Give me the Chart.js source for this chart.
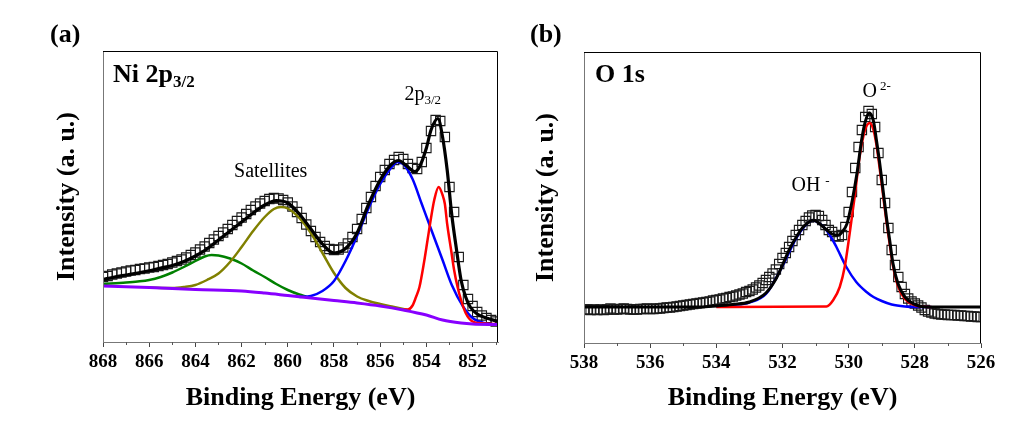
<!DOCTYPE html>
<html>
<head>
<meta charset="utf-8">
<script src="https://cdn.jsdelivr.net/npm/chart.js@4.4.1/dist/chart.umd.min.js"></script>
<style>
  body { margin: 0; background: #fff; }
  #wrap { position: relative; width: 1032px; height: 426px; }
  canvas { position: absolute; top: 0; }
  #niChart { left: 0; }
  #oChart { left: 516px; }
</style>
</head>
<body>
<div id="wrap">
  <canvas id="niChart" width="516" height="426"></canvas>
  <canvas id="oChart" width="516" height="426"></canvas>
</div>
<script>
// ---- Ni 2p3/2 (panel a) ----
const niScanStart = 868, niScanStep = 0.2;
const niCounts = [
  65, 66, 67.5, 68.5, 69.5, 70.5, 71.5, 72, 73, 73.5,
  74.5, 75, 76, 77, 78, 79.5, 81, 82.5, 84.5, 87,
  89.5, 92.5, 95.5, 99, 102.5, 106, 109.5, 113, 117, 121,
  124.5, 128, 132, 135.5, 138.5, 141, 143, 144, 143.5, 142,
  139.5, 135.5, 130, 124, 117.5, 111, 105, 100, 96, 93,
  92, 92.5, 94.5, 98.5, 105, 113, 123, 134, 145, 156,
  165, 172, 178, 182, 185, 183, 178, 174, 173, 180,
  194, 211, 222, 221, 205, 155, 130, 85, 57, 43,
  36, 30, 26.5, 24, 22, 20.5
];
const niFitE = [868, 867.5, 867, 866.5, 866, 865.5, 865, 864.5, 864, 863.5, 863, 862.5, 862, 861.5, 861, 860.5, 860, 859.5, 859, 858.5, 858, 857.5, 857, 856.5, 856, 855.5, 855.2, 854.9, 854.5, 854.3, 854.0, 853.8, 853.5, 853.3, 853.1, 852.9, 852.7, 852.5, 852.3, 852.1, 851.8, 851.4, 850.9];
const niFitI = [62.5, 65, 67, 69, 71.3, 74, 76.5, 80.5, 86, 93, 102, 111, 120, 129, 137, 141.5, 139, 128, 113, 98, 89, 93.5, 109, 138, 162, 178, 181.5, 177, 170.5, 175, 194, 212, 223.5, 205, 172, 127, 93, 62, 45, 35, 28, 24, 20.5];
const niBgE = [868, 866, 864, 862, 861, 860, 859, 858, 857, 856, 855, 854, 853.3, 852.5, 852, 850.9];
const niBgI = [56, 54.5, 52.5, 51, 49, 46.5, 44, 41.5, 39, 36, 32, 27, 22, 19, 18, 17.5];
const niGreenE = [868, 867, 866.5, 866, 865.5, 865, 864.5, 864, 863.6, 863.3, 863, 862.5, 862, 861.5, 861, 860.5, 860, 859.5, 859.2];
const niGreenI = [58, 59.5, 60.5, 62, 65, 69.5, 75, 81, 85.5, 87, 86.5, 83.5, 78.5, 71.5, 65, 58, 52, 47.5, 45.5];
const niOliveE = [866, 865, 864.5, 864, 863.5, 863, 862.5, 862, 861.5, 861, 860.6, 860.3, 860, 859.5, 859, 858.5, 858, 857.5, 857, 856.5, 856, 855.5, 855, 854.8];
const niOliveI = [54.5, 54, 55, 57, 62, 68.5, 80, 95, 111, 125, 133, 135, 133.5, 124, 109, 89, 69, 54, 45.5, 41, 38, 35.5, 33, 32];
const niBlueE = [859.5, 859, 858.5, 858, 857.5, 857, 856.5, 856, 855.5, 855.25, 855, 854.6, 854.2, 853.8, 853.3, 852.9, 852.4, 852, 851.5, 850.9];
const niBlueI = [45, 46, 51, 61, 81, 106, 134, 158, 175, 180, 178, 163, 138, 113, 82, 57, 35, 24, 19, 17.5];
const niRedE = [855, 854.8, 854.6, 854.45, 854.3, 854.1, 853.95, 853.8, 853.66, 853.47, 853.3, 853.2, 853.1, 852.93, 852.8, 852.65, 852.5, 852.3, 852, 851.5, 850.9];
const niRedI = [32.5, 32.5, 36.5, 45, 55, 80, 102, 124, 142, 155, 147, 138, 118, 92, 72, 55, 42, 29, 20.5, 18.5, 18];
const niTicks = [868, 866, 864, 862, 860, 858, 856, 854, 852];
const niMinor = [867, 865, 863, 861, 859, 857, 855, 853, 851];

// ---- O 1s (panel b) ----
const oScanStart = 538, oScanStep = 0.1;
const oCounts = [
  33.5, 33.5, 33, 33.5, 33, 33.5, 33, 33.5, 34.5, 33.5,
  33.5, 34, 34.5, 34, 33.5, 33.5, 33.5, 34, 34, 34.5,
  34, 34, 34.5, 34.5, 35, 35.5, 35.5, 36, 36.5, 37, 37.5,
  38, 38.5, 39, 39.5, 40, 40.5, 41, 41.5, 42.5, 43,
  43.5, 44.5, 45, 46, 46.5, 47.5, 48.5, 49.5, 51, 52,
  53.5, 55.5, 57.5, 60, 63, 66, 69.5, 73.5, 79, 85,
  90, 96, 102, 108, 113, 118, 122, 125.5, 127.5, 128,
  127, 123, 118, 113, 111, 107, 106.5, 108, 116, 131,
  151, 175, 196, 213, 226, 232, 229, 216, 190, 163,
  140, 115, 93, 78, 66, 56, 49, 44.5, 41.5, 39.5,
  37.5, 35.5, 33, 31.5, 30.5, 29.5, 29, 28.5, 28.5, 28,
  28, 28, 27.5, 27.5, 27, 27, 26.5, 26.5, 26, 26
];
const oFitE = [538, 534.5, 534, 533.5, 533, 532.5, 532.2, 532, 531.8, 531.6, 531.4, 531.2, 531.08, 530.9, 530.7, 530.5, 530.32, 530.2, 530.05, 529.89, 529.75, 529.61, 529.5, 529.38, 529.25, 529.16, 529.06, 528.96, 528.86, 528.76, 528.66, 528.51, 528.3, 528.05, 527.65, 526];
const oFitI = [36, 36, 37, 38.5, 41, 50, 64, 78, 93, 105, 115, 121, 122.7, 120, 114, 109, 107.7, 111, 119.4, 142.7, 169.4, 202.7, 221, 230, 222, 202.7, 179.4, 152.7, 126, 102.7, 79.4, 59.4, 46, 39.4, 36, 36];
const oBlueE = [534, 533.5, 533, 532.5, 532, 531.6, 531.3, 531.08, 530.9, 530.7, 530.5, 530.37, 530.07, 529.77, 529.46, 529.25, 529, 528.7, 528.3, 528, 527.5];
const oBlueI = [36.5, 38, 40.5, 49, 77, 104, 118, 122.5, 120, 114, 104, 96, 76, 61, 51, 46, 42, 38.5, 36.5, 36, 36];
const oRedE = [534, 530.67, 530.47, 530.27, 530.12, 529.97, 529.82, 529.67, 529.51, 529.36, 529.25, 529.16, 529.06, 528.96, 528.86, 528.76, 528.66, 528.51, 528.3, 528.05, 527.8, 527.5];
const oRedI = [36, 36.5, 42.7, 56, 76, 109.4, 146, 186, 212.7, 220, 213, 198, 174, 148, 122, 99, 77, 57, 44, 38.5, 36.5, 36];
const oTicks = [538, 536, 534, 532, 530, 528, 526];
const oMinor = [537, 535, 533, 531, 529, 527];

const serif = '"Liberation Serif", "Times New Roman", serif';

function pairs(xs, ys) {
  return xs.map((x, i) => ({x: x, y: ys[i]}));
}
function scan(start, step, counts) {
  return counts.map((v, i) => ({x: +(start - i * step).toFixed(2), y: v}));
}
function fitLine(data, color, width) {
  return {data: data, showLine: true, borderColor: color, borderWidth: width,
    pointRadius: 0, cubicInterpolationMode: 'monotone', fill: false};
}
function squares(data) {
  return {data: data, showLine: false, pointStyle: 'rect', pointRadius: 6.6,
    pointBorderColor: '#1a1a1a', pointBackgroundColor: 'rgba(0,0,0,0)', pointBorderWidth: 1.1};
}

// frame, minor ticks and text notes
const decor = {
  id: 'decor',
  afterDatasetsDraw(chart, args, opts) {
    const {ctx, chartArea: a, scales: {x, y}} = chart;
    ctx.save();
    ctx.lineWidth = 1;
    ctx.strokeStyle = '#555';
    opts.minor.forEach(v => {
      const px = Math.round(x.getPixelForValue(v)) + 0.5;
      ctx.beginPath(); ctx.moveTo(px, a.bottom); ctx.lineTo(px, a.bottom + 3); ctx.stroke();
    });
    ctx.strokeStyle = '#777';
    ctx.beginPath(); ctx.moveTo(a.left + 0.5, a.top); ctx.lineTo(a.left + 0.5, a.bottom); ctx.stroke();
    ctx.strokeStyle = '#000';
    ctx.beginPath();
    ctx.moveTo(a.left, a.top + 0.5); ctx.lineTo(a.right - 0.5, a.top + 0.5); ctx.lineTo(a.right - 0.5, a.bottom);
    ctx.stroke();

    ctx.fillStyle = '#000';
    ctx.textBaseline = 'alphabetic';
    opts.notes.forEach(n => {
      let px = n.px !== undefined ? n.px : x.getPixelForValue(n.x);
      const py = n.py !== undefined ? n.py : y.getPixelForValue(n.y);
      if (n.align === 'center') {
        let w = 0;
        n.parts.forEach(p => { ctx.font = p.font; w += ctx.measureText(p.text).width + (p.gap || 0); });
        px -= w / 2;
      }
      n.parts.forEach(p => {
        ctx.font = p.font;
        px += p.gap || 0;
        ctx.fillText(p.text, px, py + (p.dy || 0));
        px += ctx.measureText(p.text).width;
      });
    });
    ctx.restore();
  }
};

function makeChart(id, cfg) {
  return new Chart(document.getElementById(id), {
    type: 'scatter',
    data: {datasets: cfg.datasets},
    options: {
      responsive: false,
      animation: false,
      events: [],
      layout: {padding: {left: 0, right: cfg.padRight, top: cfg.padTop, bottom: 0}},
      plugins: {
        legend: {display: false},
        tooltip: {enabled: false},
        decor: {minor: cfg.minor, notes: cfg.notes}
      },
      scales: {
        x: {
          type: 'linear', reverse: true, min: cfg.xMin, max: cfg.xMax,
          afterBuildTicks: s => { s.ticks = cfg.ticks.map(v => ({value: v})); },
          afterFit: s => { s.height = cfg.xHeight; },
          ticks: {font: {family: serif, size: 19, weight: 'bold'}, color: '#000', padding: 4},
          grid: {drawOnChartArea: false, tickLength: 5, tickColor: '#444'},
          border: {display: true, color: '#777'},
          title: {display: true, text: 'Binding Energy (eV)', color: '#000',
            font: {family: serif, size: 26, weight: 'bold'}, padding: {top: 0, bottom: 12}}
        },
        y: {
          min: 0, max: 291,
          afterFit: s => { s.width = cfg.yWidth; },
          ticks: {display: false},
          grid: {display: false},
          border: {display: false},
          title: {display: true, text: 'Intensity (a. u.)', color: '#000',
            font: {family: serif, size: 26, weight: 'bold'}, padding: {top: cfg.yTitlePad, bottom: 0}}
        }
      }
    },
    plugins: [decor]
  });
}

makeChart('niChart', {
  xMin: 850.9, xMax: 868, ticks: niTicks, minor: niMinor,
  padRight: 18, padTop: 51, xHeight: 84, yWidth: 103, yTitlePad: 52,
  datasets: [
    fitLine(pairs(niFitE, niFitI), '#000', 3.2),
    fitLine(pairs(niBgE, niBgI), '#8800ff', 3),
    fitLine(pairs(niRedE, niRedI), '#ff0000', 2.5),
    fitLine(pairs(niBlueE, niBlueI), '#0000ff', 2.5),
    fitLine(pairs(niOliveE, niOliveI), '#808000', 2.5),
    fitLine(pairs(niGreenE, niGreenI), '#008000', 2.5),
    squares(scan(niScanStart, niScanStep, niCounts))
  ],
  notes: [
    {px: 50, py: 42, parts: [{text: '(a)', font: 'bold 26px ' + serif}]},
    {px: 113, py: 82, parts: [{text: 'Ni 2p', font: 'bold 26px ' + serif}, {text: '3/2', font: 'bold 17px ' + serif, dy: 5}]},
    {x: 860.74, y: 165, align: 'center', parts: [{text: 'Satellites', font: '20px ' + serif}]},
    {x: 854.95, y: 242, parts: [{text: '2p', font: '20px ' + serif}, {text: '3/2', font: '13px ' + serif, dy: 4}]}
  ]
});

makeChart('oChart', {
  xMin: 526, xMax: 538, ticks: oTicks, minor: oMinor,
  padRight: 51, padTop: 52, xHeight: 83, yWidth: 68, yTitlePad: 15,
  datasets: [
    fitLine(pairs(oFitE, oFitI), '#000', 3),
    fitLine(pairs(oRedE, oRedI), '#ff0000', 2.5),
    fitLine(pairs(oBlueE, oBlueI), '#0000ff', 2.5),
    squares(scan(oScanStart, oScanStep, oCounts))
  ],
  notes: [
    {px: 14, py: 42, parts: [{text: '(b)', font: 'bold 26px ' + serif}]},
    {px: 79, py: 82, parts: [{text: 'O 1s', font: 'bold 26px ' + serif}]},
    {x: 529.58, y: 246, parts: [{text: 'O', font: '20px ' + serif}, {text: '2-', font: '13px ' + serif, dy: -7, gap: 3}]},
    {x: 531.73, y: 152, parts: [{text: 'OH', font: '20px ' + serif}, {text: '-', font: '13px ' + serif, dy: -6, gap: 5}]}
  ]
});
</script>
</body>
</html>
